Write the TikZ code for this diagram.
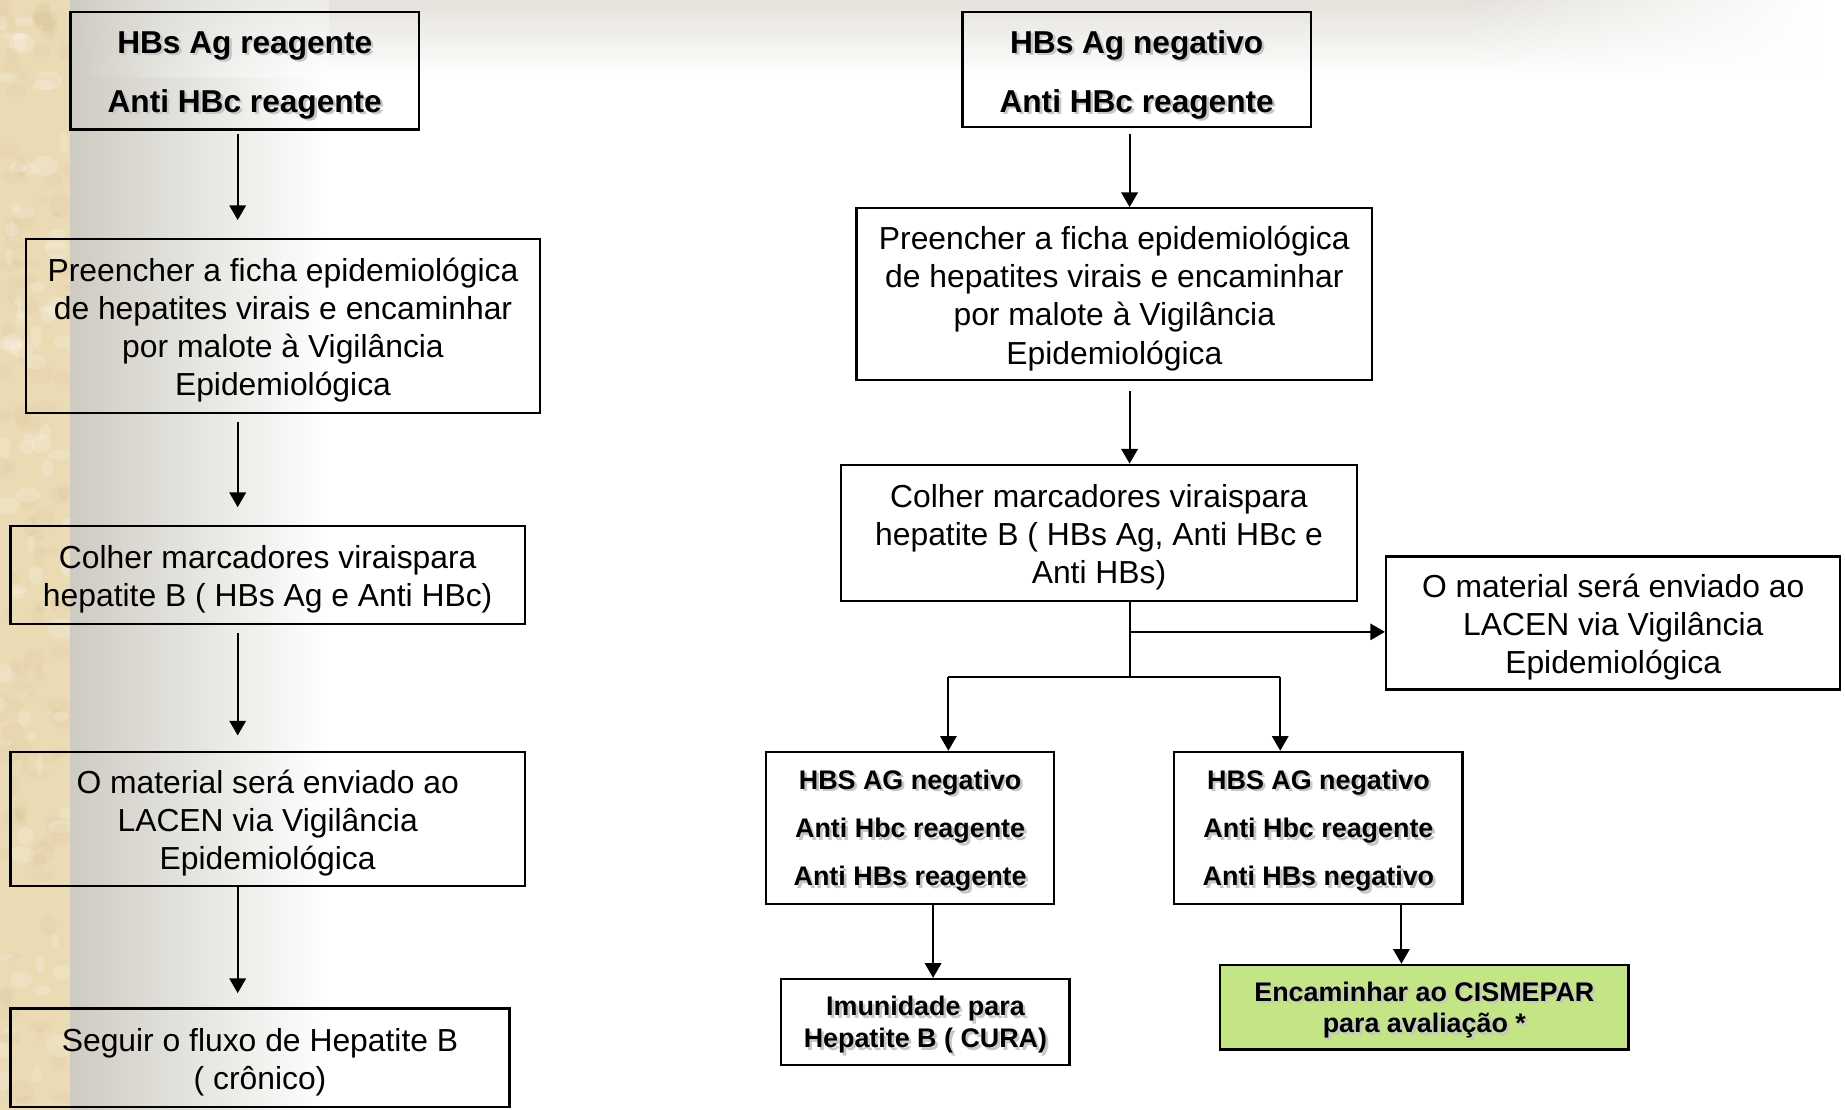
\documentclass[tikz,border=0pt]{standalone}
\usepackage{fontspec}
\setmainfont{Liberation Sans}
\usetikzlibrary{arrows.meta,fadings}
\definecolor{parch}{RGB}{235,219,181}
\definecolor{parchdark}{RGB}{205,182,138}
\definecolor{leftgray}{RGB}{206,203,194}
\definecolor{topgray}{RGB}{226,223,216}
\definecolor{greenfill}{RGB}{196,229,133}
\newcommand\shd[1]{\leavevmode\rlap{\kern0.045cm\raisebox{-0.045cm}{\textcolor{black!22}{#1}}}#1}
\newcommand\fl[2][0.14cm]{\raisebox{0pt}[\dimexpr\height+#1\relax]{#2}}
\tikzset{
  box/.style 2 args={draw=black, line width=1.1pt, inner sep=0pt, align=center,
    minimum width=#1*0.02cm, minimum height=#2*0.02cm},
  regtext/.style={font=\fontsize{15.4pt}{18.5pt}\selectfont},
  topbold/.style={font=\fontsize{15.3pt}{28.4pt}\selectfont\bfseries},
  smallbold/.style={font=\fontsize{13pt}{23.3pt}\selectfont\bfseries},
  tinybold/.style={font=\fontsize{13pt}{15.4pt}\selectfont\bfseries},
  arr/.style={line width=0.9pt, -{Triangle[width=0.28cm,length=0.25cm]}},
  conn/.style={line width=0.9pt}
}
\begin{document}
\begin{tikzpicture}[x=0.02cm,y=-0.02cm]
\useasboundingbox (0,0) rectangle (1568,943);
% background
\fill[white] (0,0) rectangle (1568,943);
\fill[parch] (0,0) rectangle (60,943);
\begin{scope}
\clip (0,0) rectangle (60,943);
\pgfmathsetseed{11}
\foreach \i in {1,...,110}{
  \fill[parchdark, opacity=0.12] ({rnd*60},{rnd*943}) ellipse ({3+rnd*9} and {3+rnd*7});
}
\foreach \i in {1,...,70}{
  \fill[white, opacity=0.18] ({rnd*60},{rnd*943}) ellipse ({3+rnd*9} and {3+rnd*7});
}
\end{scope}
\shade[left color=leftgray, right color=white] (60,0) rectangle (280,943);
\shade[top color=topgray, bottom color=white, opacity=0.9] (280,0) rectangle (1250,65);
\shade[top color=topgray, bottom color=white, opacity=0.9, path fading=east] (1250,0) rectangle (1545,65);
\shade[top color=topgray, bottom color=white, opacity=0.6, path fading=west] (60,0) rectangle (280,65);

% helper coordinates
\coordinate (cL) at (202,0);
\coordinate (cR) at (960,0);
\coordinate (cB) at (960,537);
\coordinate (cJ) at (960,575);
\coordinate (c5) at (806,575);
\coordinate (c6) at (1088,575);
\coordinate (c7) at (793,0);
\coordinate (c8) at (1191,0);

% left column
\node[box={296}{100}, topbold] (L1) at (208,60) {\fl[0.2cm]{\shd{HBs Ag reagente}}\\\shd{Anti HBc reagente}};
\node[box={437}{148}, regtext] (L2) at (240.5,277) {\fl{Preencher a ficha epidemiológica}\\de hepatites virais e encaminhar\\por malote à Vigilância\\Epidemiológica};
\node[box={437}{83}, regtext] (L3) at (227.5,488.5) {\fl{Colher marcadores viraispara}\\hepatite B ( HBs Ag e Anti HBc)};
\node[box={437}{114}, regtext] (L4) at (227.5,696) {\fl{O material será enviado ao}\\LACEN via Vigilância\\Epidemiológica};
\node[box={424}{84}, regtext] (L5) at (221,899) {\fl{Seguir o fluxo de Hepatite B}\\( crônico)};

\draw[arr, shorten <=0.06cm, shorten >=0.3cm] (L1.south -| cL) -- (L2.north -| cL);
\draw[arr, shorten <=0.14cm, shorten >=0.3cm] (L2.south -| cL) -- (L3.north -| cL);
\draw[arr, shorten <=0.14cm, shorten >=0.26cm] (L3.south -| cL) -- (L4.north -| cL);
\draw[arr, shorten >=0.24cm] (L4.south -| cL) -- (L5.north -| cL);

% right column
\node[box={296}{98}, topbold] (R1) at (966,59) {\fl[0.22cm]{\shd{HBs Ag negativo}}\\\shd{Anti HBc reagente}};
\node[box={438}{146}, regtext] (R2) at (947,250) {\fl{Preencher a ficha epidemiológica}\\de hepatites virais e encaminhar\\por malote à Vigilância\\Epidemiológica};
\node[box={438}{116}, regtext] (R3) at (934,453) {\fl{Colher marcadores viraispara}\\hepatite B ( HBs Ag, Anti HBc e\\Anti HBs)};
\node[box={386}{113}, regtext] (R4) at (1371,529.5) {\fl{O material será enviado ao}\\LACEN via Vigilância\\Epidemiológica};
\node[box={245}{129}, smallbold] (R5) at (773.5,703.5) {\fl{\shd{HBS AG negativo}}\\\shd{Anti Hbc reagente}\\\shd{Anti HBs reagente}};
\node[box={245}{129}, smallbold] (R6) at (1120.5,703.5) {\fl{\shd{HBS AG negativo}}\\\shd{Anti Hbc reagente}\\\shd{Anti HBs negativo}};
\node[box={245}{73}, tinybold] (R7) at (786.5,868.5) {\fl{\shd{Imunidade para}}\\\shd{Hepatite B ( CURA)}};
\node[box={347}{72}, tinybold, fill=greenfill] (R8) at (1210.5,856) {\fl{\shd{Encaminhar ao CISMEPAR}}\\\shd{para avaliação *}};

\draw[arr, shorten <=0.1cm] (R1.south -| cR) -- (R2.north -| cR);
\draw[arr, shorten <=0.16cm] (R2.south -| cR) -- (R3.north -| cR);
\draw[conn] (R3.south -| cR) -- (cJ);
\draw[arr] (cB) -- (R4.west |- cB);
\draw[conn] (c5) -- (c6);
\draw[arr] (c5) -- (R5.north -| c5);
\draw[arr] (c6) -- (R6.north -| c6);
\draw[arr] (R5.south -| c7) -- (R7.north -| c7);
\draw[arr] (R6.south -| c8) -- (R8.north -| c8);
\end{tikzpicture}
\end{document}
